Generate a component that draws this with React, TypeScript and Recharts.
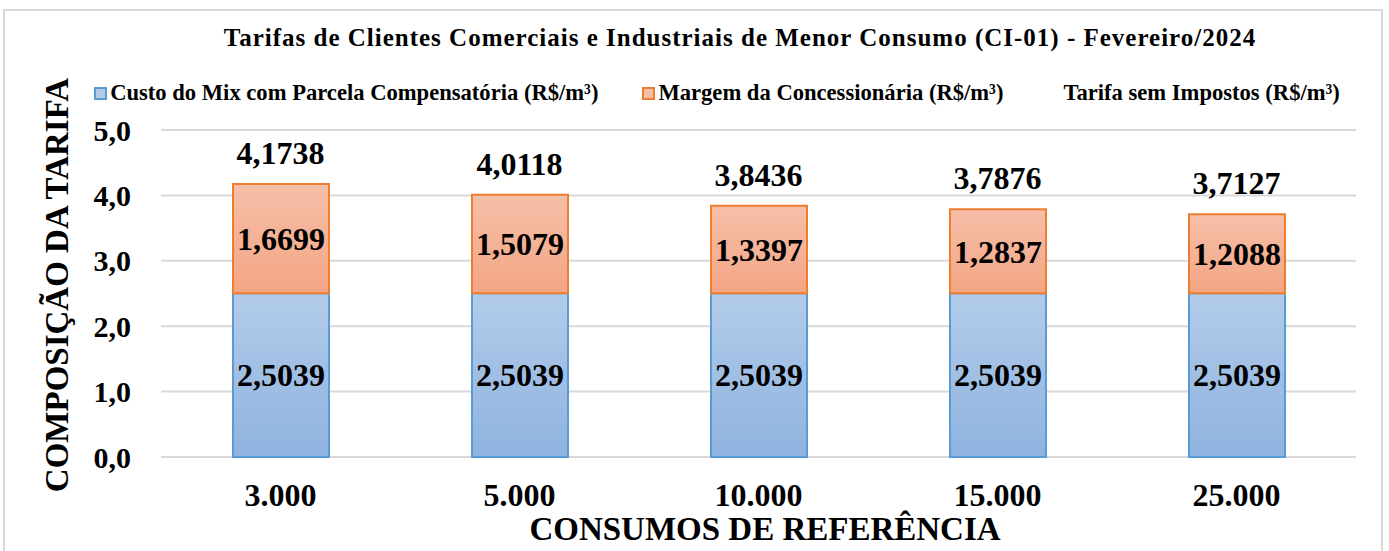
import React from 'react';
import {
  ComposedChart,
  Bar,
  Line,
  XAxis,
  YAxis,
  CartesianGrid,
  LabelList,
} from 'recharts';

const consumos = ['3.000', '5.000', '10.000', '15.000', '25.000'];
const custoMix = [2.5039, 2.5039, 2.5039, 2.5039, 2.5039];
const margem = [1.6699, 1.5079, 1.3397, 1.2837, 1.2088];
const tarifa = [4.1738, 4.0118, 3.8436, 3.7876, 3.7127];
const yTicks = [0, 1, 2, 3, 4, 5];

const seriesNames = [
  'Custo do Mix com Parcela Compensatória (R$/m³)',
  'Margem da Concessionária (R$/m³)',
  'Tarifa sem Impostos (R$/m³)',
];

const data = consumos.map((c, i) => ({
  consumo: c,
  custo: custoMix[i],
  margem: margem[i],
  tarifa: tarifa[i],
}));

const FONT = '"Liberation Serif", "Times New Roman", serif';

const COLORS = {
  blueTop: '#b2cbe9',
  blueBottom: '#8fb3e0',
  blueStroke: '#5b9bd5',
  orangeTop: '#f6bfa8',
  orangeBottom: '#f4a584',
  orangeStroke: '#ed7d31',
  grid: '#d9d9d9',
  frame: '#d9d9d9',
  text: '#000000',
};

const fmt4 = (v: any) => Number(v).toFixed(4).replace('.', ',');
const fmt1 = (v: any) => Number(v).toFixed(1).replace('.', ',');

const legendMarkers = [COLORS.blueStroke, COLORS.orangeStroke, null];
const legendFills = [COLORS.blueTop, COLORS.orangeTop, null];

const labelStyle = { fontFamily: FONT, fontWeight: 700, fontSize: 32, fill: COLORS.text };

function ChartLegend() {
  return (
    <div
      style={{
        position: 'absolute',
        left: 0,
        top: 80,
        width: 1434,
        display: 'flex',
        justifyContent: 'center',
        alignItems: 'center',
        gap: 44,
        fontFamily: FONT,
        fontWeight: 700,
        fontSize: 22.6,
        lineHeight: '26px',
        color: COLORS.text,
        whiteSpace: 'nowrap',
      }}
    >
      {seriesNames.map((name, i) => (
        <div key={name} style={{ display: 'flex', alignItems: 'center', gap: 3 }}>
          <span
            style={{
              display: 'inline-block',
              width: 9,
              height: 9,
              border: legendMarkers[i] ? `2px solid ${legendMarkers[i]}` : '2px solid transparent',
              background: legendFills[i] ?? 'transparent',
            }}
          />
          <span>{name}</span>
        </div>
      ))}
    </div>
  );
}

function YLabel() {
  return (
    <text
      x={57}
      y={285}
      transform="rotate(-90 57 285)"
      textAnchor="middle"
      dominantBaseline="central"
      fontFamily={FONT}
      fontWeight={700}
      fontSize={33}
      fill={COLORS.text}
    >
      COMPOSIÇÃO DA TARIFA
    </text>
  );
}

function XLabel() {
  return (
    <text
      x={765}
      y={529}
      textAnchor="middle"
      dominantBaseline="central"
      fontFamily={FONT}
      fontWeight={700}
      fontSize={33}
      fill={COLORS.text}
    >
      CONSUMOS DE REFERÊNCIA
    </text>
  );
}

export default function App() {
  return (
    <div
      style={{
        position: 'absolute',
        left: 0,
        top: 0,
        width: 1389,
        height: 551,
        overflow: 'hidden',
        background: '#ffffff',
      }}
    >
      <div
        style={{
          position: 'absolute',
          left: 3,
          top: 9,
          width: 1380,
          height: 600,
          border: `2px solid ${COLORS.frame}`,
          boxSizing: 'border-box',
        }}
      />
      <div
        style={{
          position: 'absolute',
          left: 0,
          top: 24,
          width: 1480,
          textAlign: 'center',
          fontFamily: FONT,
          fontWeight: 700,
          fontSize: 25,
          letterSpacing: 1,
          color: COLORS.text,
          whiteSpace: 'nowrap',
        }}
      >
        Tarifas de Clientes Comerciais e Industriais de Menor Consumo (CI-01) - Fevereiro/2024
      </div>
      <ChartLegend />
      <div style={{ position: 'absolute', left: 0, top: 0 }}>
        <ComposedChart
          width={1389}
          height={551}
          data={data}
          margin={{ top: 130, right: 33, left: 20, bottom: 34 }}
          barCategoryGap={0}
        >
          <defs>
            <linearGradient id="gradBlue" x1="0" y1="0" x2="0" y2="1">
              <stop offset="0%" stopColor={COLORS.blueTop} />
              <stop offset="100%" stopColor={COLORS.blueBottom} />
            </linearGradient>
            <linearGradient id="gradOrange" x1="0" y1="0" x2="0" y2="1">
              <stop offset="0%" stopColor={COLORS.orangeTop} />
              <stop offset="100%" stopColor={COLORS.orangeBottom} />
            </linearGradient>
          </defs>
          <CartesianGrid vertical={false} stroke={COLORS.grid} strokeWidth={2} />
          <XAxis
            dataKey="consumo"
            axisLine={false}
            tickLine={false}
            height={60}
            tickMargin={20}
            tick={{ fontFamily: FONT, fontWeight: 700, fontSize: 32, fill: COLORS.text }}
            label={<XLabel />}
          />
          <YAxis
            width={141}
            domain={[0, 5]}
            ticks={yTicks}
            tickFormatter={fmt1}
            axisLine={false}
            tickLine={false}
            tickMargin={24}
            tick={{ fontFamily: FONT, fontWeight: 700, fontSize: 30, fill: COLORS.text }}
            label={<YLabel />}
          />
          <Bar
            dataKey="custo"
            name={seriesNames[0]}
            stackId="a"
            barSize={96}
            fill="url(#gradBlue)"
            stroke={COLORS.blueStroke}
            strokeWidth={2}
            isAnimationActive={false}
          >
            <LabelList dataKey="custo" position="center" formatter={fmt4} style={labelStyle} />
          </Bar>
          <Bar
            dataKey="margem"
            name={seriesNames[1]}
            stackId="a"
            barSize={96}
            fill="url(#gradOrange)"
            stroke={COLORS.orangeStroke}
            strokeWidth={2}
            isAnimationActive={false}
          >
            <LabelList dataKey="margem" position="center" formatter={fmt4} style={labelStyle} />
          </Bar>
          <Line
            dataKey="tarifa"
            name={seriesNames[2]}
            stroke="none"
            dot={false}
            activeDot={false}
            isAnimationActive={false}
          >
            <LabelList dataKey="tarifa" position="top" offset={20} formatter={fmt4} style={labelStyle} />
          </Line>
        </ComposedChart>
      </div>
    </div>
  );
}
